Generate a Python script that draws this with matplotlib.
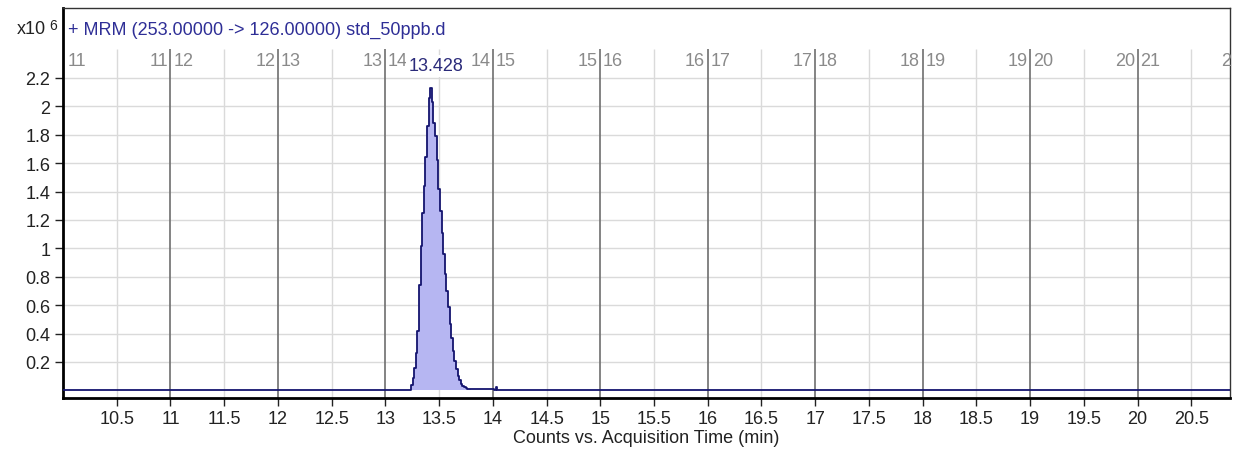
import matplotlib
matplotlib.use('Agg')
import matplotlib.pyplot as plt
import numpy as np

plt.rcParams['font.family'] = ['Liberation Sans', 'DejaVu Sans']

# chromatogram (counts in units of 10^6)
time_min = [10.0, 13.23, 13.245, 13.26, 13.275, 13.29, 13.305, 13.32, 13.335, 13.35,
            13.365, 13.38, 13.395, 13.41, 13.425, 13.44, 13.455, 13.47, 13.485,
            13.50, 13.515, 13.53, 13.545, 13.56, 13.575, 13.59, 13.605, 13.62,
            13.635, 13.65, 13.665, 13.68, 13.695, 13.71, 13.725, 13.74, 13.755,
            13.77, 13.785, 13.80, 13.90, 14.0, 14.02, 14.035, 14.05, 14.07, 20.86]
counts = [0.0, 0.0, 0.04, 0.09, 0.16, 0.26, 0.42, 0.74, 1.02, 1.25,
          1.44, 1.64, 1.86, 2.06, 2.13, 2.03, 1.88, 1.79, 1.62,
          1.42, 1.26, 1.11, 0.96, 0.82, 0.70, 0.59, 0.47, 0.37,
          0.28, 0.21, 0.15, 0.10, 0.07, 0.045, 0.03, 0.022, 0.016,
          0.012, 0.01, 0.01, 0.01, 0.01, 0.0, 0.02, 0.005, 0.0, 0.0]
peak_start, peak_end = 13.23, 13.80
peak_rt = 13.428
peak_label = '13.428'

title = '+ MRM (253.00000 -> 126.00000) std_50ppb.d'
xlabel = 'Counts vs. Acquisition Time (min)'
segment_lines = [11, 12, 13, 14, 15, 16, 17, 18, 19, 20]
xticks = [10.5, 11, 11.5, 12, 12.5, 13, 13.5, 14, 14.5, 15, 15.5, 16, 16.5,
          17, 17.5, 18, 18.5, 19, 19.5, 20, 20.5]
yticks = [0.2, 0.4, 0.6, 0.8, 1.0, 1.2, 1.4, 1.6, 1.8, 2.0, 2.2]

navy = '#14146e'
fill_col = '#b6b6f2'
seg_gray = '#8a8a8a'

t = np.array(time_min)
c = np.array(counts)

fig = plt.figure(figsize=(12.34, 4.52), dpi=100)
ax = fig.add_axes([63/1234, 1 - 399/452, (1230-63)/1234, (399-9)/452])
ax.set_xlim(10.0, 20.86)
ax.set_ylim(-0.054, 2.693)

grid_top = 2.404
# light grid
for y in yticks:
    ax.axhline(y, color='#dadada', lw=1, zorder=1)
for x in xticks:
    if float(x).is_integer():
        ax.vlines(x, -0.054, grid_top, color='#6e6e6e', lw=1.2, zorder=1.5)
    else:
        ax.vlines(x, -0.054, grid_top, color='#dadada', lw=1, zorder=1)

# segment labels
ax.text(10.04, 2.32, '11', color=seg_gray, fontsize=13, ha='left', va='center')
for s in segment_lines:
    ax.text(s - 0.025, 2.32, str(s), color=seg_gray, fontsize=13, ha='right', va='center')
    ax.text(s + 0.025, 2.32, str(s + 1), color=seg_gray, fontsize=13, ha='left', va='center')
ax.text(20.775, 2.32, '2', color=seg_gray, fontsize=13, ha='left', va='center')

# chromatogram
mask = (t >= peak_start) & (t <= peak_end)
ax.fill_between(t[mask], 0, c[mask], step='mid', color=fill_col, zorder=3, lw=0)
ax.plot(t, c, drawstyle='steps-mid', color=navy, lw=1.3, zorder=4)
ax.text(peak_rt + 0.04, 2.285, peak_label, color='#2a2a7a', fontsize=13,
        ha='center', va='center', zorder=5,
        bbox=dict(facecolor='white', edgecolor='none', pad=2))

ax.text(10.045, 2.545, title, color='#2e2e96', fontsize=13, ha='left', va='center')
fig.text(46/1234, 1 - 30/452, 'x10', fontsize=13, color='#222222', ha='right', va='center')
fig.text(49/1234, 1 - 26/452, '6', fontsize=10, color='#222222', ha='left', va='center')

ax.set_xticks(xticks)
ax.set_xticklabels(['%g' % x for x in xticks])
ax.set_yticks(yticks)
ax.set_yticklabels(['%g' % y for y in yticks])
ax.tick_params(direction='out', length=6, width=1, labelsize=13, colors='#222222', pad=3)
ax.set_xlabel(xlabel, fontsize=13, color='#222222', labelpad=1)

for side in ['left', 'bottom']:
    ax.spines[side].set_linewidth(2)
    ax.spines[side].set_color('black')
for side in ['top', 'right']:
    ax.spines[side].set_linewidth(1)
    ax.spines[side].set_color('#333333')

fig.savefig('out.png', dpi=100)
